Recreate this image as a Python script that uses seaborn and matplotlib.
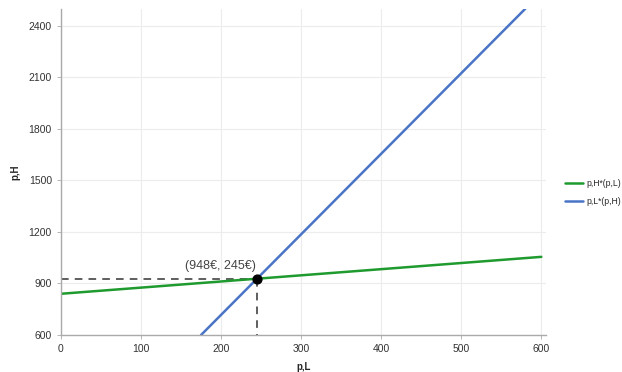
import numpy as np
import pandas as pd
import matplotlib
matplotlib.use("Agg")
import matplotlib.pyplot as plt
import seaborn as sns

# best responses
series_names = ["p,H*(p,L)", "p,L*(p,H)"]
green_pL = [0, 600]
green_pH = [840, 1055]
blue_pL = [175, 580]
blue_pH = [600, 2500]
eq_pL = 245
eq_pH = 926
eq_label = "(948€, 245€)"
x_ticks = [0, 100, 200, 300, 400, 500, 600]
y_ticks = [600, 900, 1200, 1500, 1800, 2100, 2400]

sns.set_style("whitegrid")
plt.rcParams["font.family"] = ["Liberation Sans", "DejaVu Sans"]

df = pd.concat([
    pd.DataFrame({"p,L": green_pL, "p,H": green_pH, "curve": series_names[0]}),
    pd.DataFrame({"p,L": blue_pL, "p,H": blue_pH, "curve": series_names[1]}),
])

fig = plt.figure(figsize=(6.22, 3.72), dpi=100)
ax = fig.add_axes([0.098, 0.0995, 0.78, 0.877])

sns.lineplot(data=df, x="p,L", y="p,H", hue="curve",
             palette=["#1f9a2e", "#4a74c6"], linewidth=1.8, ax=ax)

# equilibrium marker with dashed guides
ax.plot([0, eq_pL], [eq_pH, eq_pH], ls=(0, (5, 4)), color="#333333", lw=1.1, zorder=1)
ax.plot([eq_pL, eq_pL], [eq_pH, 600], ls=(0, (5, 4)), color="#333333", lw=1.1, zorder=1)
ax.scatter([eq_pL], [eq_pH], s=40, color="black", zorder=5)
ax.annotate(eq_label, (eq_pL, eq_pH), xytext=(-52, 7), textcoords="offset points",
            fontsize=9, color="#444444")

ax.set_xlim(0, 606)
ax.set_ylim(600, 2500)
ax.set_xticks(x_ticks)
ax.set_yticks(y_ticks)
ax.tick_params(labelsize=7.5, colors="#333333", length=3, width=0.6, color="#aaaaaa",
               left=True, bottom=True)
ax.grid(color="#ececec", linewidth=0.8)
for side in ["top", "right"]:
    ax.spines[side].set_visible(False)
for side in ["left", "bottom"]:
    ax.spines[side].set_color("#aaaaaa")
    ax.spines[side].set_linewidth(1.0)

ax.set_xlabel("p,L", fontsize=7, fontweight="bold", labelpad=6)
ax.set_ylabel("p,H", fontsize=7, fontweight="bold", labelpad=6)

leg = ax.legend(title=None, loc="upper left", bbox_to_anchor=(1.029, 0.493),
                frameon=False, fontsize=6.2, handlelength=2.0, handletextpad=0.4,
                labelspacing=1.0, borderaxespad=0.2)

fig.savefig("out.png", dpi=100)
